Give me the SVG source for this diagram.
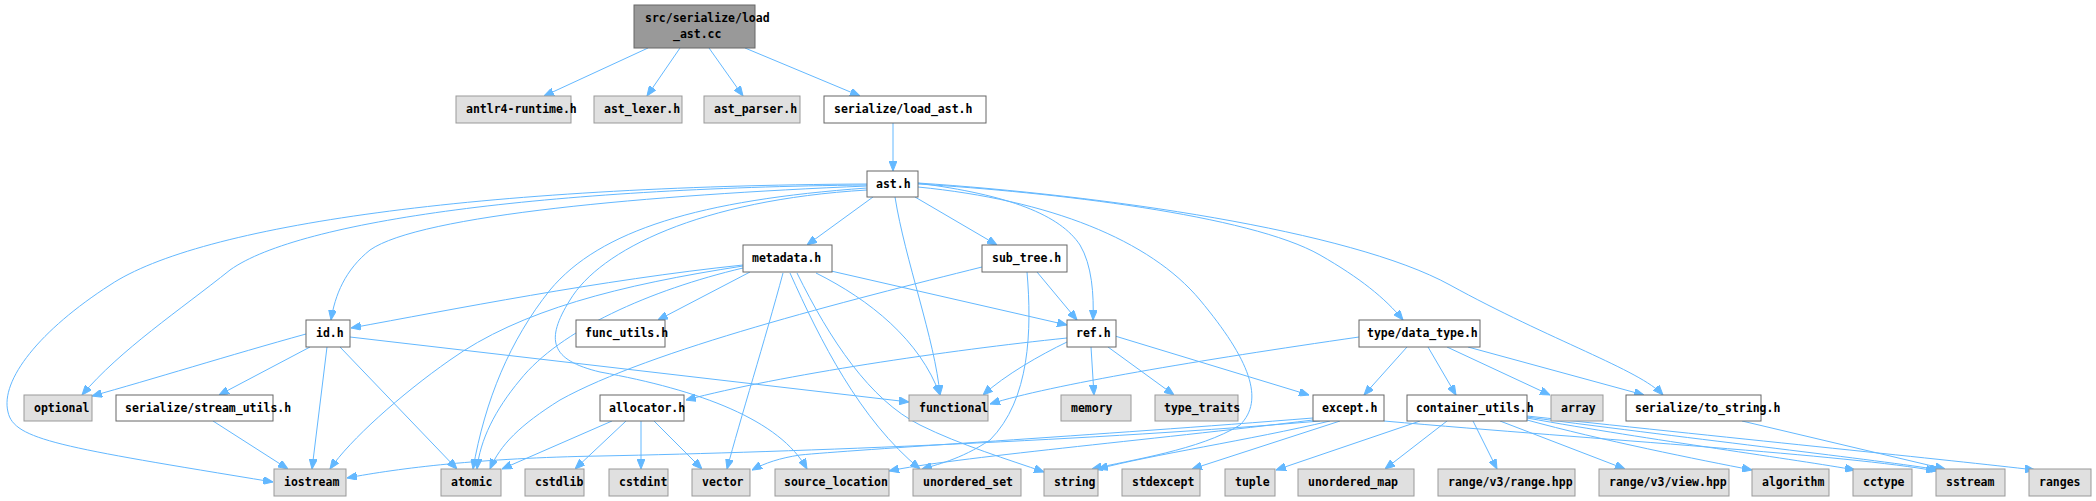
<svg xmlns="http://www.w3.org/2000/svg" width="2096" height="501" viewBox="0 0 2096 501">
<defs>
<marker id="a" viewBox="0 0 10 8" refX="10" refY="4" markerWidth="10" markerHeight="8" orient="auto" markerUnits="userSpaceOnUse"><path d="M0,0 L10,4 L0,8 z" fill="#63b8ff" stroke="#63b8ff"/></marker>
<style>
.e{fill:none;stroke:#63b8ff;stroke-width:1;marker-end:url(#a)}
.w{fill:#ffffff;stroke:#666666;stroke-width:1}
.g{fill:#e0e0e0;stroke:#999999;stroke-width:1}
.r{fill:#999999;stroke:#666666;stroke-width:1}
text{font-family:"DejaVu Sans Mono","Liberation Mono",monospace;font-size:11.5px;font-weight:bold;fill:#000000}
</style>
</defs>
<rect width="2096" height="501" fill="#ffffff"/>
<g id="edges">
<path class="e" d="M648,48 L544,96"/>
<path class="e" d="M680,48 L647,96"/>
<path class="e" d="M709,48 L743,96"/>
<path class="e" d="M745,48 L860,96"/>
<path class="e" d="M893,123 L893,171"/>
<path class="e" d="M873,197 L807,245"/>
<path class="e" d="M915,197 L997,245"/>
<path class="e" d="M917,183 C1010,195 1060,215 1080,245 C1092,265 1094,295 1093,320"/>
<path class="e" d="M918,184 C1050,192 1250,215 1320,255 C1360,278 1385,298 1403,320"/>
<path class="e" d="M918,183 C1100,195 1350,230 1450,285 C1550,340 1640,370 1663,395"/>
<path class="e" d="M867,186 C650,195 420,215 370,250 C345,270 335,295 331,320"/>
<path class="e" d="M867,185 C550,188 300,220 230,270 C180,310 120,350 82,395"/>
<path class="e" d="M867,184 C480,186 200,225 110,285 C40,330 0,380 8,412 C14,440 60,447 273,482"/>
<path class="e" d="M867,188 C700,200 600,230 550,290 C510,340 485,400 473,469"/>
<path class="e" d="M895,197 C905,260 935,340 940,395"/>
<path class="e" d="M918,187 C1050,200 1150,240 1200,300 C1250,360 1265,400 1240,425 C1200,450 1130,460 1092,469"/>
<path class="e" d="M867,190 C700,200 600,250 570,300 C545,340 550,360 600,372 C700,390 780,420 807,469"/>
<path class="e" d="M743,265 C600,280 450,310 351,328"/>
<path class="e" d="M750,272 L658,320"/>
<path class="e" d="M831,271 L1067,325"/>
<path class="e" d="M816,273 C870,300 920,340 940,395"/>
<path class="e" d="M783,273 C765,340 740,420 727,469"/>
<path class="e" d="M743,266 C620,285 520,310 450,360 C400,395 350,440 330,469"/>
<path class="e" d="M743,268 C650,290 560,330 520,380 C495,410 480,440 477,469"/>
<path class="e" d="M790,273 C820,340 860,420 920,469"/>
<path class="e" d="M797,273 C830,340 870,400 920,425 C960,445 1010,460 1044,472"/>
<path class="e" d="M1037,272 L1077,320"/>
<path class="e" d="M982,267 C850,300 650,350 560,400 C520,425 500,445 490,469"/>
<path class="e" d="M1027,272 C1032,330 1030,400 990,440 C960,460 935,465 922,469"/>
<path class="e" d="M1067,338 C950,350 780,375 686,400"/>
<path class="e" d="M1067,342 C1040,355 1005,375 983,395"/>
<path class="e" d="M1091,347 L1094,395"/>
<path class="e" d="M1108,347 L1174,395"/>
<path class="e" d="M1115,336 L1309,395"/>
<path class="e" d="M306,334 C230,355 150,380 92,396"/>
<path class="e" d="M310,347 L219,395"/>
<path class="e" d="M327,347 L312,469"/>
<path class="e" d="M340,347 L457,469"/>
<path class="e" d="M350,337 L909,402"/>
<path class="e" d="M213,421 L288,469"/>
<path class="e" d="M612,421 L502,469"/>
<path class="e" d="M626,421 L575,469"/>
<path class="e" d="M641,421 L641,469"/>
<path class="e" d="M654,421 L702,469"/>
<path class="e" d="M1359,337 C1200,360 1050,385 990,404"/>
<path class="e" d="M1407,347 L1364,395"/>
<path class="e" d="M1428,347 L1456,395"/>
<path class="e" d="M1447,347 L1550,395"/>
<path class="e" d="M1468,347 L1644,395"/>
<path class="e" d="M1320,421 C1100,440 800,452 600,456 C480,458 400,468 347,478"/>
<path class="e" d="M1313,418 C1100,435 850,450 800,455 C780,458 765,463 752,470"/>
<path class="e" d="M1313,420 C1150,440 950,458 889,471"/>
<path class="e" d="M1330,421 C1250,440 1150,455 1098,469"/>
<path class="e" d="M1340,421 L1192,469"/>
<path class="e" d="M1384,421 C1600,440 1850,455 1936,471"/>
<path class="e" d="M1420,421 L1276,470"/>
<path class="e" d="M1447,421 L1385,469"/>
<path class="e" d="M1473,421 L1497,469"/>
<path class="e" d="M1500,421 L1625,469"/>
<path class="e" d="M1527,420 C1600,440 1700,460 1752,470"/>
<path class="e" d="M1527,418 C1650,440 1800,460 1855,470"/>
<path class="e" d="M1527,417 C1700,440 1880,460 1940,470"/>
<path class="e" d="M1527,416 C1750,440 1950,460 2035,470"/>
<path class="e" d="M1742,421 L1945,469"/>
</g>
<g id="n_root"><rect class="r" x="634" y="5" width="121" height="43"/><text x="645" y="22">src/serialize/load</text><text x="673" y="38">_ast.cc</text></g>
<g id="n_antlr"><rect class="g" x="456" y="96" width="115" height="27"/><text x="466" y="113">antlr4-runtime.h</text></g>
<g id="n_lexer"><rect class="g" x="594" y="96" width="88" height="27"/><text x="604" y="113">ast_lexer.h</text></g>
<g id="n_parser"><rect class="g" x="704" y="96" width="96" height="27"/><text x="714" y="113">ast_parser.h</text></g>
<g id="n_load_ast"><rect class="w" x="824" y="96" width="162" height="27"/><text x="834" y="113">serialize/load_ast.h</text></g>
<g id="n_ast"><rect class="w" x="867" y="171" width="51" height="26"/><text x="876" y="188">ast.h</text></g>
<g id="n_metadata"><rect class="w" x="743" y="245" width="89" height="27"/><text x="752" y="262">metadata.h</text></g>
<g id="n_sub_tree"><rect class="w" x="982" y="245" width="85" height="27"/><text x="992" y="262">sub_tree.h</text></g>
<g id="n_id"><rect class="w" x="306" y="320" width="44" height="27"/><text x="316" y="337">id.h</text></g>
<g id="n_func_utils"><rect class="w" x="576" y="320" width="89" height="27"/><text x="585" y="337">func_utils.h</text></g>
<g id="n_ref"><rect class="w" x="1067" y="320" width="49" height="27"/><text x="1076" y="337">ref.h</text></g>
<g id="n_data_type"><rect class="w" x="1359" y="320" width="121" height="27"/><text x="1367" y="337">type/data_type.h</text></g>
<g id="n_optional"><rect class="g" x="24" y="395" width="68" height="26"/><text x="34" y="412">optional</text></g>
<g id="n_stream_utils"><rect class="w" x="116" y="395" width="157" height="26"/><text x="125" y="412">serialize/stream_utils.h</text></g>
<g id="n_allocator"><rect class="w" x="600" y="395" width="84" height="26"/><text x="609" y="412">allocator.h</text></g>
<g id="n_functional"><rect class="g" x="909" y="395" width="79" height="26"/><text x="919" y="412">functional</text></g>
<g id="n_memory"><rect class="g" x="1061" y="395" width="70" height="26"/><text x="1071" y="412">memory</text></g>
<g id="n_type_traits"><rect class="g" x="1155" y="395" width="83" height="26"/><text x="1164" y="412">type_traits</text></g>
<g id="n_except"><rect class="w" x="1313" y="395" width="71" height="26"/><text x="1322" y="412">except.h</text></g>
<g id="n_container_utils"><rect class="w" x="1407" y="395" width="120" height="26"/><text x="1416" y="412">container_utils.h</text></g>
<g id="n_array"><rect class="g" x="1551" y="395" width="52" height="26"/><text x="1561" y="412">array</text></g>
<g id="n_to_string"><rect class="w" x="1626" y="395" width="135" height="26"/><text x="1635" y="412">serialize/to_string.h</text></g>
<g id="n_iostream"><rect class="g" x="274" y="469" width="72" height="27"/><text x="284" y="486">iostream</text></g>
<g id="n_atomic"><rect class="g" x="441" y="469" width="60" height="27"/><text x="451" y="486">atomic</text></g>
<g id="n_cstdlib"><rect class="g" x="525" y="469" width="59" height="27"/><text x="535" y="486">cstdlib</text></g>
<g id="n_cstdint"><rect class="g" x="609" y="469" width="59" height="27"/><text x="619" y="486">cstdint</text></g>
<g id="n_vector"><rect class="g" x="692" y="469" width="58" height="27"/><text x="702" y="486">vector</text></g>
<g id="n_source_location"><rect class="g" x="775" y="469" width="114" height="27"/><text x="784" y="486">source_location</text></g>
<g id="n_unordered_set"><rect class="g" x="913" y="469" width="108" height="27"/><text x="923" y="486">unordered_set</text></g>
<g id="n_string"><rect class="g" x="1044" y="469" width="54" height="27"/><text x="1054" y="486">string</text></g>
<g id="n_stdexcept"><rect class="g" x="1122" y="469" width="78" height="27"/><text x="1132" y="486">stdexcept</text></g>
<g id="n_tuple"><rect class="g" x="1225" y="469" width="50" height="27"/><text x="1235" y="486">tuple</text></g>
<g id="n_unordered_map"><rect class="g" x="1298" y="469" width="116" height="27"/><text x="1308" y="486">unordered_map</text></g>
<g id="n_range_hpp"><rect class="g" x="1438" y="469" width="137" height="27"/><text x="1448" y="486">range/v3/range.hpp</text></g>
<g id="n_view_hpp"><rect class="g" x="1599" y="469" width="130" height="27"/><text x="1609" y="486">range/v3/view.hpp</text></g>
<g id="n_algorithm"><rect class="g" x="1752" y="469" width="77" height="27"/><text x="1762" y="486">algorithm</text></g>
<g id="n_cctype"><rect class="g" x="1853" y="469" width="59" height="27"/><text x="1863" y="486">cctype</text></g>
<g id="n_sstream"><rect class="g" x="1936" y="469" width="69" height="27"/><text x="1946" y="486">sstream</text></g>
<g id="n_ranges"><rect class="g" x="2029" y="469" width="62" height="27"/><text x="2039" y="486">ranges</text></g>
</svg>
